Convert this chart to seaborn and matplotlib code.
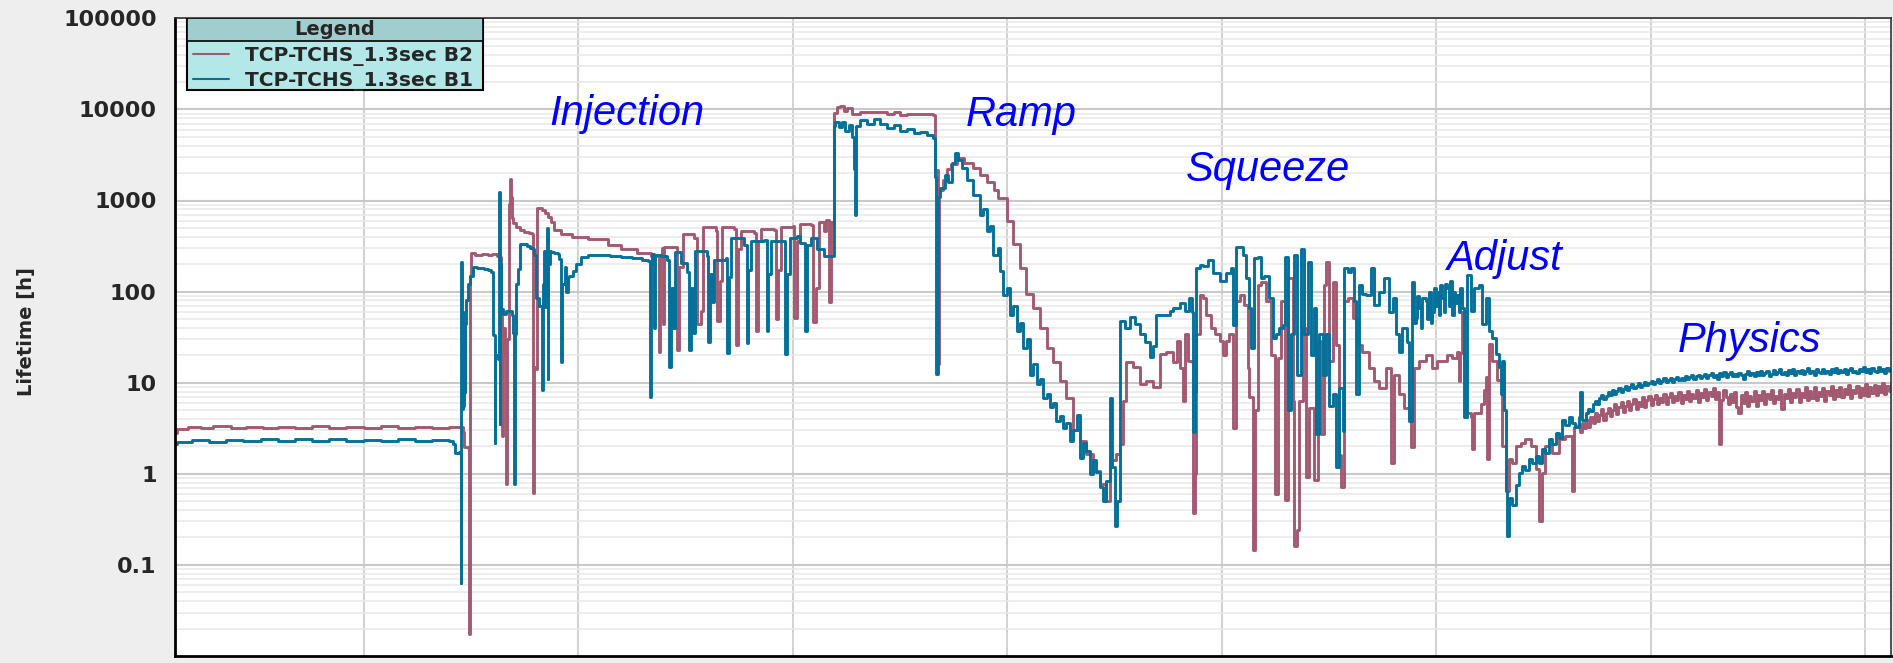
import matplotlib
matplotlib.use("Agg")
import matplotlib.pyplot as plt
import matplotlib.ticker as mticker
from matplotlib.patches import Rectangle
from matplotlib.lines import Line2D
import pandas as pd
import seaborn as sns

# ---------------------------------------------------------------------------
# Beam lifetime (hours) versus fill time, per beam and per machine phase.
# Each phase list holds (time, lifetime) samples; the physics phase is
# logged at a fixed interval, so only its lifetimes are listed.
# ---------------------------------------------------------------------------
SERIES = ["TCP-TCHS_1.3sec B2", "TCP-TCHS_1.3sec B1"]

B2_PRE_INJECTION = [
    (-0.879, 2.8), (-0.87, 3.1), (-0.82, 3.3), (-0.76, 3.2), (-0.70, 3.35),
    (-0.62, 3.2), (-0.55, 3.3), (-0.47, 3.15), (-0.40, 3.3), (-0.32, 3.2),
    (-0.24, 3.35), (-0.16, 3.2), (-0.08, 3.3), (0.00, 3.2), (0.08, 3.35),
    (0.16, 3.2), (0.24, 3.3), (0.32, 3.2), (0.40, 3.3), (0.455, 3.25),
    (0.464, 2.9), (0.468, 1.95), (0.489, 1.9), (0.491, 0.0175),
]
B2_INJECTION = [
    (0.494, 150), (0.499, 265), (0.52, 250), (0.55, 258), (0.58, 252),
    (0.60, 257), (0.62, 248), (0.634, 240), (0.642, 60), (0.647, 2.6),
    (0.652, 40), (0.66, 20), (0.666, 0.78), (0.67, 30), (0.676, 920),
    (0.683, 1730), (0.687, 1100), (0.692, 650), (0.697, 560), (0.71, 510),
    (0.73, 480), (0.75, 455), (0.77, 435), (0.786, 425), (0.788, 50),
    (0.792, 0.62), (0.796, 15), (0.806, 14), (0.81, 820), (0.83, 780),
    (0.845, 720), (0.86, 655), (0.875, 577), (0.89, 470), (0.92, 430),
    (0.97, 395), (1.045, 378), (1.138, 328), (1.2, 290), (1.277, 263),
    (1.34, 248), (1.372, 245), (1.378, 22), (1.383, 240), (1.39, 300),
    (1.394, 44), (1.4015, 309), (1.46, 296), (1.4635, 22.6), (1.471, 188),
    (1.491, 424), (1.541, 387), (1.553, 44), (1.572, 61), (1.584, 509),
    (1.642, 465), (1.646, 48), (1.662, 131), (1.673, 509), (1.727, 487),
    (1.735, 26), (1.746, 296), (1.758, 465), (1.82, 445), (1.828, 37),
    (1.839, 355), (1.851, 487), (1.913, 470), (1.921, 50), (1.932, 171),
    (1.944, 509), (2.003, 530), (2.006, 51), (2.022, 355), (2.037, 555),
    (2.084, 532), (2.096, 46), (2.111, 109), (2.122, 580), (2.146, 465),
    (2.158, 608), (2.169, 76), (2.177, 580), (2.192, 555),
    (2.195, 9100), (2.207, 10500), (2.223, 11000), (2.238, 9500),
    (2.254, 10400), (2.277, 9000), (2.316, 9300), (2.393, 9400),
    (2.44, 9000), (2.471, 9400), (2.502, 8700), (2.533, 9000),
    (2.564, 8800), (2.611, 9000), (2.657, 8600),
]
B2_RAMP = [
    (2.665, 2150), (2.676, 1500), (2.68, 16), (2.684, 1300), (2.70, 1700),
    (2.72, 2200), (2.74, 2500), (2.766, 2900), (2.78, 2900), (2.80, 2600),
    (2.843, 2260), (2.874, 1900), (2.905, 1610), (2.94, 1300), (2.96, 1060),
    (2.998, 590), (3.03, 330), (3.06, 182), (3.09, 93), (3.122, 66),
    (3.153, 40), (3.184, 24), (3.215, 17), (3.246, 10.4), (3.277, 6.8),
    (3.308, 3.0), (3.339, 2.3), (3.37, 1.64), (3.401, 1.08), (3.432, 0.77),
    (3.463, 0.5), (3.479, 1.4), (3.51, 1.64),
]
B2_SQUEEZE = [
    (3.525, 2.1), (3.541, 6.3), (3.556, 17), (3.587, 15), (3.619, 9.6),
    (3.65, 10.4), (3.68, 9), (3.711, 20.5), (3.742, 22), (3.774, 17),
    (3.79, 29), (3.805, 14.6), (3.82, 6.3), (3.828, 34), (3.844, 17.2),
    (3.864, 17), (3.867, 0.37), (3.874, 1.0), (3.882, 34), (3.898, 92),
    (3.913, 85), (3.929, 56), (3.952, 40), (3.968, 34), (3.991, 28.5),
    (4.006, 20), (4.022, 28.5), (4.037, 34), (4.053, 3.2), (4.068, 78),
    (4.084, 92), (4.107, 72), (4.123, 14.6), (4.13, 6.9), (4.146, 0.146),
    (4.158, 5), (4.169, 118), (4.184, 129), (4.208, 78), (4.231, 20),
    (4.247, 0.6), (4.262, 18.8), (4.277, 78), (4.297, 0.51), (4.308, 140),
    (4.332, 6.3), (4.339, 0.16), (4.35, 0.24), (4.363, 6.3), (4.378, 40),
    (4.394, 0.93), (4.409, 5.3), (4.433, 0.85), (4.448, 28.5), (4.464, 2.73),
    (4.479, 118), (4.487, 212), (4.502, 17.2), (4.518, 129), (4.533, 26),
    (4.549, 1.6), (4.559, 0.72), (4.572, 78), (4.588, 85), (4.611, 51),
    (4.634, 26), (4.657, 22), (4.688, 14.6), (4.711, 10.5), (4.735, 8.8),
    (4.766, 14.6), (4.789, 1.3), (4.805, 12.3), (4.828, 7.5), (4.851, 5.3),
    (4.874, 4.15), (4.882, 1.95),
]
B2_ADJUST = [
    (4.897, 14.6), (4.92, 17.2), (4.951, 20), (4.982, 14.6), (5.005, 17.2),
    (5.028, 17.2), (5.051, 20), (5.075, 18.8), (5.098, 22), (5.105, 10.5),
    (5.114, 21), (5.122, 60), (5.13, 17.5), (5.137, 4.15), (5.145, 4.6),
    (5.161, 4.25), (5.168, 1.85), (5.177, 4.6), (5.208, 5.9), (5.224, 8.3),
    (5.231, 11.6), (5.239, 1.44), (5.247, 26.5), (5.262, 17.5), (5.286, 10.6),
    (5.309, 2.0), (5.324, 0.64), (5.34, 1.44), (5.355, 1.33), (5.371, 2.0),
    (5.394, 2.2), (5.417, 2.4), (5.441, 2.0), (5.464, 1.12), (5.479, 0.3),
    (5.495, 1.03), (5.51, 2.0), (5.541, 1.7), (5.572, 2.4), (5.603, 2.6),
    (5.634, 0.64), (5.645, 3.3),
]
B2_PHYSICS_START = 5.66
B2_PHYSICS = [
    3.4, 2.9, 3.6, 3.2,
    3.9, 3.3, 4.2, 3.6, 4.6, 3.8, 4.4, 5.1, 3.9, 4.7,
    5.3, 4.3, 5.0, 5.8, 4.5, 5.4, 6.1, 4.8, 5.6, 6.3,
    5.0, 5.9, 6.6, 5.2, 6.2, 5.6, 6.9, 5.4, 6.4, 7.1,
    5.7, 6.6, 7.4, 5.9, 6.8, 6.2, 7.6, 5.8, 7.0, 7.8,
    6.1, 7.2, 6.5, 8.0, 6.0, 7.4, 6.7, 8.2, 6.3, 7.5,
    6.8, 8.4, 6.2, 7.7, 7.0, 8.6, 6.5, 7.9, 7.2, 8.8,
    6.6, 8.0, 2.1, 6.4, 8.3, 7.0, 5.8, 7.6, 6.1, 8.0,
    5.4, 4.6, 7.4, 6.0, 7.9, 5.6, 7.1, 6.3, 8.1, 5.5,
    7.3, 6.4, 8.2, 5.8, 7.6, 6.7, 8.4, 6.0, 7.2, 6.6,
    8.3, 5.1, 7.5, 6.8, 8.6, 6.2, 7.8, 6.9, 8.5, 6.1,
    7.7, 7.0, 8.9, 6.4, 8.1, 6.8, 9.0, 6.5, 7.9, 7.2,
    8.7, 6.3, 8.2, 7.4, 9.2, 6.7, 8.4, 7.1, 9.0, 6.9,
    8.6, 7.5, 9.4, 6.8, 8.3, 7.7, 9.3, 7.0, 8.8, 7.4,
    9.6, 7.2, 8.9, 7.8, 9.5, 7.3, 9.1, 8.0, 9.8, 7.6,
    9.3, 8.2, 9.6,
]

B1_PRE_INJECTION = [
    (-0.879, 2.1), (-0.87, 2.25), (-0.80, 2.35), (-0.72, 2.25), (-0.64, 2.35),
    (-0.56, 2.3), (-0.48, 2.4), (-0.40, 2.3), (-0.32, 2.38), (-0.24, 2.3),
    (-0.16, 2.4), (-0.08, 2.3), (0.00, 2.35), (0.08, 2.3), (0.16, 2.4),
    (0.24, 2.3), (0.32, 2.35), (0.40, 2.3), (0.417, 2.1), (0.425, 1.7),
    (0.445, 1.75), (0.4527, 0.063),
]
B1_INJECTION = [
    (0.455, 210), (0.457, 6), (0.459, 120), (0.461, 5.1), (0.463, 60),
    (0.465, 5.5), (0.467, 44), (0.471, 8), (0.475, 44), (0.479, 80),
    (0.487, 121), (0.495, 150), (0.51, 185), (0.53, 180), (0.56, 177),
    (0.58, 172), (0.595, 163), (0.603, 33), (0.611, 2.2), (0.615, 20),
    (0.626, 18), (0.63, 1250), (0.634, 3.5), (0.637, 200), (0.640, 65),
    (0.65, 57), (0.665, 62), (0.69, 55), (0.698, 35), (0.701, 0.78),
    (0.705, 34), (0.712, 120), (0.72, 177), (0.728, 330), (0.76, 320),
    (0.775, 300), (0.79, 290), (0.795, 250), (0.805, 86), (0.82, 70),
    (0.8326, 8.3), (0.836, 120), (0.843, 282), (0.848, 67), (0.855, 500),
    (0.858, 11), (0.862, 200), (0.867, 282), (0.875, 270), (0.89, 265),
    (0.905, 260), (0.913, 228), (0.921, 16.7), (0.925, 121), (0.937, 185),
    (0.944, 100), (0.952, 143), (0.96, 150), (0.975, 170), (0.99, 200),
    (1.014, 238), (1.045, 252), (1.1, 250), (1.15, 248), (1.2, 242),
    (1.25, 232), (1.3, 222), (1.324, 215), (1.335, 6.9), (1.339, 200),
    (1.343, 259), (1.355, 40), (1.359, 255), (1.37, 250), (1.386, 247),
    (1.417, 225), (1.425, 15), (1.432, 109), (1.445, 40), (1.451, 270),
    (1.479, 206), (1.51, 164), (1.518, 22.6), (1.526, 109), (1.536, 35),
    (1.546, 282), (1.603, 247), (1.608, 28), (1.615, 157), (1.626, 76),
    (1.634, 225), (1.688, 236), (1.696, 21), (1.704, 144), (1.715, 387),
    (1.774, 324), (1.786, 27), (1.794, 171), (1.805, 355), (1.867, 371),
    (1.879, 37), (1.885, 157), (1.898, 355), (1.96, 360), (1.967, 20.7),
    (1.975, 157), (1.987, 387), (2.022, 405), (2.037, 340), (2.057, 37),
    (2.068, 324), (2.084, 387), (2.115, 296), (2.146, 247), (2.192, 252),
    (2.195, 6500), (2.2, 7300), (2.215, 6400), (2.23, 7300), (2.246, 5800),
    (2.261, 6700), (2.277, 5000), (2.285, 2200), (2.289, 700), (2.296, 6600),
    (2.316, 7600), (2.347, 7000), (2.378, 7800), (2.409, 6900), (2.44, 6300),
    (2.471, 6700), (2.502, 5800), (2.533, 6100), (2.564, 5500), (2.595, 5700),
    (2.626, 5300), (2.657, 4900),
]
B1_RAMP = [
    (2.665, 1800), (2.669, 12.5), (2.676, 900), (2.68, 1100), (2.688, 1360),
    (2.711, 1900), (2.727, 1600), (2.742, 2600), (2.758, 3300), (2.773, 2800),
    (2.789, 2300), (2.812, 1700), (2.843, 1150), (2.874, 700), (2.89, 800),
    (2.905, 460), (2.921, 520), (2.936, 254), (2.959, 300), (2.967, 167),
    (2.983, 92), (2.998, 110), (3.014, 56), (3.029, 70), (3.045, 37),
    (3.06, 45), (3.076, 24), (3.091, 30), (3.107, 12), (3.122, 16),
    (3.138, 9.7), (3.153, 11), (3.169, 6.8), (3.184, 7.5), (3.2, 5.4),
    (3.215, 6.0), (3.23, 3.8), (3.246, 4.3), (3.262, 3.2), (3.277, 3.6),
    (3.293, 2.3), (3.308, 3.0), (3.324, 4.4), (3.339, 1.5), (3.355, 2.2),
    (3.37, 1.8), (3.386, 1.0), (3.401, 1.4), (3.417, 1.05), (3.432, 0.71),
    (3.448, 0.5), (3.463, 0.84), (3.479, 6.8), (3.491, 1.2), (3.505, 0.27),
    (3.514, 0.5),
]
B1_SQUEEZE = [
    (3.525, 47), (3.548, 40), (3.572, 52), (3.595, 44), (3.619, 34),
    (3.642, 28), (3.665, 19), (3.68, 25), (3.696, 55), (3.727, 55),
    (3.758, 62), (3.774, 66), (3.805, 75), (3.828, 62), (3.85, 85),
    (3.863, 60), (3.867, 2.9), (3.874, 8), (3.882, 180), (3.898, 195),
    (3.913, 190), (3.936, 221), (3.96, 159), (3.991, 130), (4.022, 159),
    (4.045, 180), (4.053, 43), (4.068, 310), (4.084, 310), (4.1, 251),
    (4.115, 140), (4.13, 66), (4.138, 24), (4.153, 231), (4.169, 241),
    (4.184, 140), (4.2, 150), (4.223, 85), (4.239, 31), (4.254, 34),
    (4.27, 40), (4.285, 43), (4.297, 241), (4.308, 5.0), (4.324, 34),
    (4.339, 251), (4.35, 12.3), (4.37, 297), (4.386, 34), (4.402, 212),
    (4.417, 20), (4.433, 66), (4.44, 2.73), (4.456, 34), (4.471, 12.3),
    (4.487, 34), (4.502, 5.6), (4.518, 7.5), (4.533, 1.18), (4.549, 8.8),
    (4.564, 2.97), (4.572, 180), (4.588, 165), (4.603, 180), (4.619, 78),
    (4.626, 7.5), (4.642, 118), (4.657, 95), (4.673, 92), (4.696, 180),
    (4.711, 72), (4.735, 100), (4.758, 140), (4.781, 60), (4.797, 85),
    (4.812, 34), (4.828, 22), (4.843, 40), (4.866, 28), (4.874, 3.8),
]
B1_ADJUST = [
    (4.889, 129), (4.897, 45), (4.905, 51), (4.913, 90), (4.92, 66),
    (4.928, 40), (4.936, 85), (4.951, 78), (4.959, 50), (4.967, 100),
    (4.975, 45), (4.982, 60), (4.99, 110), (4.998, 70), (5.005, 100),
    (5.013, 55), (5.02, 118), (5.028, 85), (5.036, 60), (5.044, 120),
    (5.051, 109), (5.059, 70), (5.067, 130), (5.075, 56), (5.083, 100),
    (5.09, 75), (5.098, 92), (5.106, 60), (5.114, 110), (5.122, 66),
    (5.13, 4.25), (5.145, 151), (5.161, 61), (5.177, 109), (5.2, 118),
    (5.208, 118), (5.216, 43.6), (5.231, 85), (5.247, 37), (5.262, 31),
    (5.278, 20.6), (5.293, 14.8), (5.301, 7.6), (5.309, 17.5), (5.317, 5.0),
    (5.324, 0.64), (5.332, 0.21), (5.34, 0.54), (5.355, 0.45), (5.371, 0.75),
    (5.386, 1.03), (5.402, 1.22), (5.417, 1.1), (5.433, 1.44), (5.448, 1.3),
    (5.464, 1.56), (5.479, 1.33), (5.495, 1.85), (5.51, 1.7), (5.526, 2.4),
    (5.541, 2.1), (5.557, 2.8), (5.572, 2.5), (5.588, 3.9), (5.603, 3.4),
    (5.619, 4.25), (5.635, 3.6), (5.65, 3.3), (5.665, 4.2), (5.673, 8.0),
    (5.681, 3.9),
]
B1_PHYSICS_START = 5.70
B1_PHYSICS = [
    4.6, 5.2, 4.9, 5.8, 6.3, 5.9, 6.8, 7.4, 6.6, 7.1,
    7.9, 7.3, 8.3, 7.6, 8.1, 8.8, 8.0, 8.5, 9.2, 8.4,
    8.9, 9.6, 8.7, 9.3, 9.9, 9.0, 9.5, 10.3, 9.4, 9.8,
    10.5, 9.6, 10.1, 10.9, 9.9, 10.4, 11.2, 10.2, 10.7, 11.4,
    10.3, 11.0, 11.6, 10.6, 11.2, 10.8, 11.9, 11.0, 11.5, 12.2,
    10.9, 11.7, 12.3, 11.2, 11.8, 12.6, 11.4, 12.0, 12.9, 11.6,
    12.3, 11.1, 12.7, 11.8, 13.1, 11.5, 12.4, 13.0, 11.9, 12.5,
    11.7, 12.9, 12.1, 10.9, 12.6, 13.3, 12.0, 12.7, 11.8, 13.2,
    12.3, 13.6, 12.0, 12.8, 13.4, 11.9, 12.6, 13.8, 12.4, 13.0,
    14.0, 12.5, 13.2, 12.1, 13.7, 12.8, 14.2, 12.3, 13.5, 12.9,
    13.9, 12.6, 13.3, 14.4, 12.7, 13.6, 12.2, 14.0, 13.1, 12.8,
    14.3, 12.9, 13.5, 12.4, 14.1, 13.2, 14.6, 12.8, 13.7, 13.0,
    14.2, 12.6, 13.8, 14.5, 13.0, 13.4, 12.7, 14.3, 13.3, 14.8,
    13.1, 14.0, 12.9, 14.6, 13.6, 13.2, 15.0, 13.4, 14.1, 12.8,
    14.4, 13.5, 13.9,
]
LOG_INTERVAL = 0.01  # physics-phase logging interval, in time units

PHASE_LABELS = ["Injection", "Ramp", "Squeeze", "Adjust", "Physics"]
PHASE_TIMES = [0.865, 2.809, 3.832, 5.045, 6.128]
PHASE_LIFETIMES = [6740, 6650, 1618, 172, 21.5]

Y_TICKS = [0.1, 1, 10, 100, 1000, 10000, 100000]
Y_TICK_LABELS = ["0.1", "1", "10", "100", "1000", "10000", "100000"]
X_GRID = [0, 1, 2, 3, 4, 5, 6, 7]

# ---------------------------------------------------------------------------
# Tidy table for seaborn
# ---------------------------------------------------------------------------
def regular(start, values):
    return [(round(start + i * LOG_INTERVAL, 4), v) for i, v in enumerate(values)]


segments = {
    SERIES[0]: [B2_PRE_INJECTION, B2_INJECTION, B2_RAMP, B2_SQUEEZE,
                B2_ADJUST, regular(B2_PHYSICS_START, B2_PHYSICS)],
    SERIES[1]: [B1_PRE_INJECTION, B1_INJECTION, B1_RAMP, B1_SQUEEZE,
                B1_ADJUST, regular(B1_PHYSICS_START, B1_PHYSICS)],
}
rows = []
for name, parts in segments.items():
    for part in parts:
        for t, life in part:
            rows.append({"time": t, "lifetime": life, "series": name})
df = pd.DataFrame(rows)

palette = {SERIES[0]: "#a35a70", SERIES[1]: "#05709a"}

# ---------------------------------------------------------------------------
# Figure
# ---------------------------------------------------------------------------
sns.set_style("white")
plt.rcParams["font.family"] = ["DejaVu Sans"]

W, H = 1893, 663
fig = plt.figure(figsize=(W / 100, H / 100), dpi=100, facecolor="#eeeeee")
ax_left, ax_right, ax_top, ax_bottom = 175, 1891, 18.3, 656
ax = fig.add_axes([ax_left / W, 1 - ax_bottom / H,
                   (ax_right - ax_left) / W, (ax_bottom - ax_top) / H])
ax.set_facecolor("white")

sns.lineplot(data=df, x="time", y="lifetime", hue="series",
             hue_order=SERIES, palette=palette, estimator=None, sort=False,
             drawstyle="steps-post", linewidth=2.1, legend=False, ax=ax)

ax.set_yscale("log")
ax.set_ylim(0.01, 1e5)
ax.set_xlim(-0.879, 7.121)

ax.set_yticks(Y_TICKS)
ax.set_yticklabels(Y_TICK_LABELS)
ax.yaxis.set_minor_locator(mticker.LogLocator(base=10, subs=range(2, 10), numticks=50))
ax.yaxis.set_minor_formatter(mticker.NullFormatter())
ax.set_xticks(X_GRID)
ax.tick_params(axis="x", which="major", direction="out", length=6, width=1.5,
               labelbottom=False, color="black")
ax.tick_params(axis="y", which="major", direction="out", length=7.2, width=1.5,
               pad=6, labelsize=16, color="black")
ax.tick_params(axis="y", which="minor", direction="out", length=4.5, width=1.1,
               color="black")
for lbl in ax.get_yticklabels():
    lbl.set_fontweight("bold")

ax.set_axisbelow(True)
ax.grid(which="major", axis="y", color="#c9c9c9", linewidth=1.5)
ax.grid(which="minor", axis="y", color="#e8e8e8", linewidth=1.1)
ax.grid(which="major", axis="x", color="#d2d2d2", linewidth=1.5)

for side in ("left", "bottom"):
    ax.spines[side].set_color("black")
    ax.spines[side].set_linewidth(2.0)
for side in ("top", "right"):
    ax.spines[side].set_color("#333333")
    ax.spines[side].set_linewidth(1.2)

ax.set_xlabel("")
ax.set_ylabel("Lifetime [h]", fontsize=14, fontweight="bold", va="center")
ax.yaxis.set_label_coords(-0.0868, 0.508)

# Phase annotations
for label, t, life in zip(PHASE_LABELS, PHASE_TIMES, PHASE_LIFETIMES):
    ax.text(t, life, label, color="#0000ff", fontsize=30, fontstyle="italic",
            family=["Liberation Sans", "DejaVu Sans"], ha="left", va="baseline",
            zorder=6)

# Legend: boxed panel with a title band
box_x0, box_x1 = 0.00682, 0.1795
box_y0, band_y0 = 0.8876, 0.9649
ax.add_patch(Rectangle((box_x0, box_y0), box_x1 - box_x0, 1 - box_y0,
                       transform=ax.transAxes, facecolor="#b4e8e8",
                       edgecolor="black", linewidth=1.5, zorder=4))
ax.add_patch(Rectangle((box_x0, band_y0), box_x1 - box_x0, 1 - band_y0,
                       transform=ax.transAxes, facecolor="#a0cdcd",
                       edgecolor="black", linewidth=1.2, zorder=4))
ax.text((box_x0 + box_x1) / 2, 0.9828, "Legend", transform=ax.transAxes,
        ha="center", va="center", fontsize=14, fontweight="bold", zorder=6)

handles = [Line2D([], [], color=palette[s], linewidth=1.5) for s in SERIES]
ax.legend(handles, SERIES, loc="upper left", bbox_to_anchor=(box_x0, 0.967),
          frameon=False, prop={"size": 14.5, "weight": "bold"},
          handlelength=1.8, handletextpad=0.78, borderpad=0.31,
          labelspacing=0.25, borderaxespad=0)

fig.savefig("out.png", dpi=100, facecolor=fig.get_facecolor())
